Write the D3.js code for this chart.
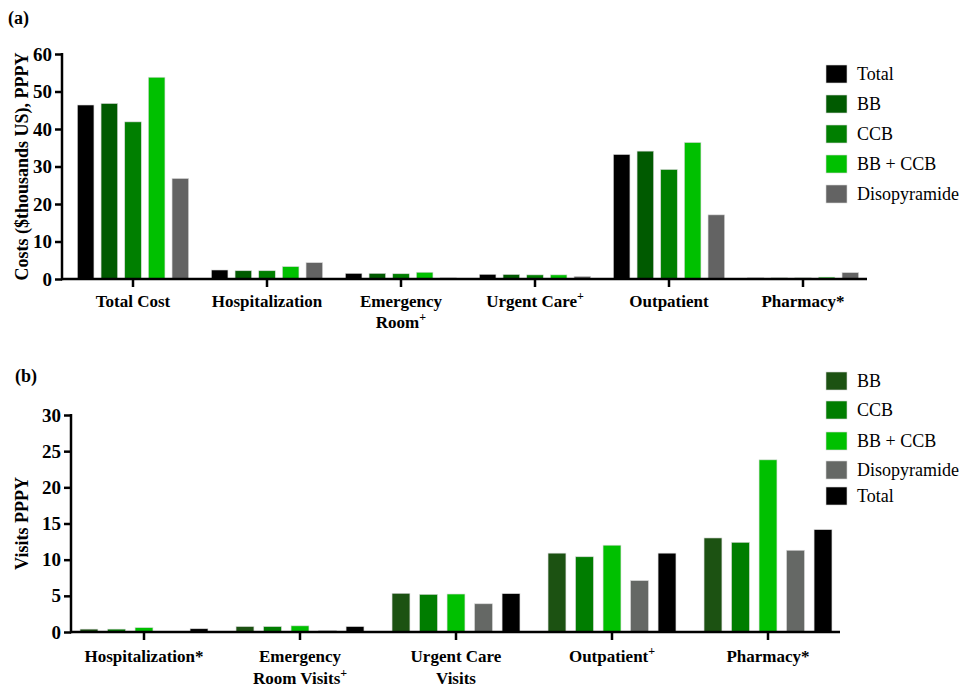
<!DOCTYPE html>
<html>
<head>
<meta charset="utf-8">
<script src="https://cdn.jsdelivr.net/npm/d3@7"></script>
<style>
  body { margin: 0; background: #fff; }
  text, tspan { font-family: "Times New Roman", "Liberation Serif", Tinos, "DejaVu Serif", serif !important; }
</style>
</head>
<body>
<div id="chart"></div>
<script>
// panel (a): costs
var costCategories = ["Total Cost", "Hospitalization", "Emergency|Room+", "Urgent Care+", "Outpatient", "Pharmacy*"];
var costSeries = ["Total", "BB", "CCB", "BB + CCB", "Disopyramide"];
var costTotal = [46.4, 2.4, 1.5, 1.25, 33.2, 0.3];
var costBB = [46.8, 2.2, 1.5, 1.2, 34.1, 0.3];
var costCCB = [41.9, 2.2, 1.4, 1.1, 29.2, 0.3];
var costBBCCB = [53.8, 3.3, 1.8, 1.1, 36.4, 0.5];
var costDiso = [26.8, 4.35, 0.3, 0.7, 17.1, 1.7];
var costTicks = [0, 10, 20, 30, 40, 50, 60];

// panel (b): visits
var visitCategories = ["Hospitalization*", "Emergency|Room Visits+", "Urgent Care|Visits", "Outpatient+", "Pharmacy*"];
var visitSeries = ["BB", "CCB", "BB + CCB", "Disopyramide", "Total"];
var visitBB = [0.4, 0.75, 5.35, 10.9, 13.0];
var visitCCB = [0.4, 0.75, 5.2, 10.4, 12.4];
var visitBBCCB = [0.6, 0.85, 5.25, 12.0, 23.8];
var visitDiso = [0, 0.2, 3.9, 7.1, 11.3];
var visitTotal = [0.45, 0.75, 5.3, 10.9, 14.15];
var visitTicks = [0, 5, 10, 15, 20, 25, 30];

var costColor = d3.scaleOrdinal()
  .domain(costSeries)
  .range(["#000000", "#005a00", "#007f00", "#00c000", "#636363"]);
var visitColor = d3.scaleOrdinal()
  .domain(visitSeries)
  .range(["#1c5212", "#007d00", "#00c000", "#656865", "#000000"]);

var svg = d3.select("#chart").append("svg")
  .attr("width", 967)
  .attr("height", 687);

// writes "+" as superscript
function addLabel(sel, str) {
  var parts = str.split("+");
  sel.append("tspan").text(parts[0]);
  if (parts.length > 1) {
    sel.append("tspan")
      .attr("font-size", "12px")
      .attr("dy", "-7")
      .text("+");
  }
}

function drawPanel(p) {
  var g = svg.append("g");

  var y = d3.scaleLinear().domain([0, p.yMax]).range([p.y0, p.yTop]);
  var x0 = d3.scaleBand().domain(p.categories).range(p.xRange)
    .paddingInner(p.padInner).paddingOuter(p.padInner / 2);
  var x1 = d3.scaleBand().domain(p.series).range([0, x0.bandwidth()])
    .paddingInner(p.barPad);

  var rows = p.categories.map(function (c, i) {
    return { cat: c, vals: p.series.map(function (s, j) { return { s: s, v: p.values[j][i] }; }) };
  });

  // bars
  g.selectAll(".grp")
    .data(rows)
    .enter().append("g")
    .attr("transform", d => "translate(" + x0(d.cat) + ",0)")
    .selectAll("rect")
    .data(d => d.vals.filter(v => v.v > 0))
    .enter().append("rect")
    .attr("x", d => x1(d.s))
    .attr("width", x1.bandwidth())
    .attr("y", d => y(d.v))
    .attr("height", d => y(0) - y(d.v))
    .attr("fill", d => p.color(d.s))
    .attr("stroke", "#d8d8d8")
    .attr("stroke-width", 0.6);

  // y axis
  var yAxis = g.append("g")
    .attr("transform", "translate(" + p.axisX + ",0)")
    .call(d3.axisLeft(y).tickValues(p.ticks).tickSize(7).tickPadding(3));
  yAxis.select(".domain").remove();
  yAxis.selectAll("line").attr("stroke", "#000").attr("stroke-width", 2.5);
  yAxis.selectAll("text")
    .attr("font-size", "19px")
    .attr("font-weight", "bold")
    .attr("fill", "#000");
  g.append("line")
    .attr("x1", p.axisX).attr("x2", p.axisX)
    .attr("y1", p.yTop - 1).attr("y2", p.y0 + 1.2)
    .attr("stroke", "#000").attr("stroke-width", 2.5);

  // x axis
  g.append("line")
    .attr("x1", p.axisX - 1).attr("x2", p.axisEnd)
    .attr("y1", p.y0).attr("y2", p.y0)
    .attr("stroke", "#000").attr("stroke-width", 2.5);
  g.selectAll(".xtick")
    .data(p.categories)
    .enter().append("line")
    .attr("x1", d => x0(d) + x0.bandwidth() / 2)
    .attr("x2", d => x0(d) + x0.bandwidth() / 2)
    .attr("y1", p.y0).attr("y2", p.y0 + 8)
    .attr("stroke", "#000").attr("stroke-width", 2.5);

  p.categories.forEach(function (c) {
    var lines = c.split("|");
    lines.forEach(function (ln, k) {
      var t = g.append("text")
        .attr("x", x0(c) + x0.bandwidth() / 2)
        .attr("y", p.labelY + k * p.lineGap)
        .attr("text-anchor", "middle")
        .attr("font-size", "17px")
        .attr("font-weight", "bold");
      addLabel(t, ln);
    });
  });

  // y title
  g.append("text")
    .attr("transform", "translate(" + p.titleX + "," + ((p.y0 + p.yTop) / 2) + ") rotate(-90)")
    .attr("text-anchor", "middle")
    .attr("font-size", "18px")
    .attr("font-weight", "bold")
    .text(p.yTitle);

  // panel tag
  g.append("text")
    .attr("x", p.tagX).attr("y", p.tagY)
    .attr("font-size", "18px")
    .attr("font-weight", "bold")
    .text(p.tag);

  // legend
  var leg = g.selectAll(".leg")
    .data(p.series)
    .enter().append("g")
    .attr("transform", (d, i) => "translate(826," + p.legendY[i] + ")");
  leg.append("rect")
    .attr("x", 0).attr("y", -9)
    .attr("width", 21).attr("height", 18)
    .attr("fill", d => p.color(d))
    .attr("stroke", "#d8d8d8")
    .attr("stroke-width", 0.6);
  leg.append("text")
    .attr("x", 31).attr("y", 6)
    .attr("font-size", "18px")
    .text(d => d);
}

drawPanel({
  categories: costCategories,
  series: costSeries,
  values: [costTotal, costBB, costCCB, costBBCCB, costDiso],
  color: costColor,
  ticks: costTicks,
  yMax: 60, y0: 279, yTop: 54,
  xRange: [66, 870], axisX: 62, axisEnd: 867,
  padInner: 0.17, barPad: 0.3,
  labelY: 307, lineGap: 21,
  yTitle: "Costs ($thousands US), PPPY", titleX: 28,
  tag: "(a)", tagX: 8, tagY: 24,
  legendY: [74, 104, 134, 164, 194]
});

drawPanel({
  categories: visitCategories,
  series: visitSeries,
  values: [visitBB, visitCCB, visitBBCCB, visitDiso, visitTotal],
  color: visitColor,
  ticks: visitTicks,
  yMax: 30, y0: 632, yTop: 415,
  xRange: [66, 846], axisX: 71, axisEnd: 840,
  padInner: 0.18, barPad: 0.35,
  labelY: 662, lineGap: 22,
  yTitle: "Visits PPPY", titleX: 28,
  tag: "(b)", tagX: 15, tagY: 382,
  legendY: [381, 410, 441, 470, 496]
});
</script>
</body>
</html>
